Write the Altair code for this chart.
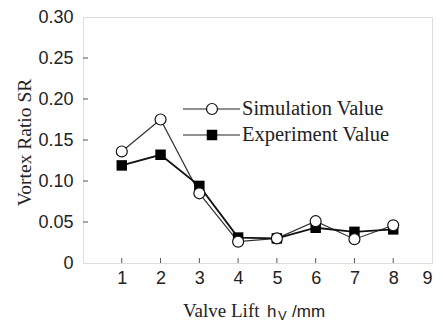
import altair as alt
import pandas as pd

lift = [1, 2, 3, 4, 5, 6, 7, 8]
simulation = [0.136, 0.175, 0.085, 0.026, 0.030, 0.051, 0.029, 0.046]
experiment = [0.119, 0.132, 0.094, 0.031, 0.030, 0.043, 0.038, 0.041]
x_ticks = [1, 2, 3, 4, 5, 6, 7, 8, 9]
y_ticks = [0, 0.05, 0.10, 0.15, 0.20, 0.25, 0.30]
series_names = ["Simulation Value", "Experiment Value"]

W, H = 349, 246

sim_df = pd.DataFrame({"x": lift, "y": simulation})
exp_df = pd.DataFrame({"x": lift, "y": experiment})

xscale = alt.Scale(domain=[0, 9], nice=False, zero=False)
yscale = alt.Scale(domain=[0, 0.30], nice=False)

xaxis = alt.Axis(values=x_ticks, format="d", title=None, grid=False, domain=False,
                 ticks=False, labelFont="Liberation Sans", labelFontSize=18,
                 labelColor="#222", labelPadding=6)
yaxis = alt.Axis(values=y_ticks, labelExpr="datum.value == 0 ? '0' : format(datum.value, '.2f')",
                 title="Vortex Ratio SR", grid=False, domain=False, ticks=False,
                 labelFont="Liberation Sans", labelFontSize=18, labelColor="#222",
                 labelPadding=10, titleFont="Liberation Serif", titleFontSize=19.5,
                 titleFontWeight="normal", titleColor="#222", titleX=-59, titleY=125,
                 titleAngle=270, titleAlign="center", titleBaseline="middle")

base_sim = alt.Chart(sim_df).encode(
    x=alt.X("x:Q", scale=xscale, axis=xaxis),
    y=alt.Y("y:Q", scale=yscale, axis=yaxis),
)
sim_line = base_sim.mark_line(color="#333", strokeWidth=1.2)
sim_pts = base_sim.mark_point(shape="circle", filled=True, fill="white", stroke="#111",
                              strokeWidth=1.2, size=120, opacity=1)

base_exp = alt.Chart(exp_df).encode(x=alt.X("x:Q", scale=xscale), y=alt.Y("y:Q", scale=yscale))
exp_line = base_exp.mark_line(color="#111", strokeWidth=1.8)
exp_pts = base_exp.mark_square(color="#000", size=110, opacity=1)

# inward ticks
xt = alt.Chart(pd.DataFrame({"x": x_ticks[:-1]})).mark_rule(color="#555", strokeWidth=1).encode(
    x=alt.X("x:Q", scale=xscale), y=alt.value(H), y2=alt.value(H - 5))
yt = alt.Chart(pd.DataFrame({"y": y_ticks[1:-1]})).mark_rule(color="#555", strokeWidth=1).encode(
    y=alt.Y("y:Q", scale=yscale), x=alt.value(0), x2=alt.value(5))

# legend
leg_df = pd.DataFrame({"name": series_names, "ly": [92, 118]})
leg_line = alt.Chart(leg_df).mark_rule(color="#222", strokeWidth=1.2).encode(
    x=alt.value(100), x2=alt.value(157), y=alt.Y("ly:Q", scale=None))
leg_circ = alt.Chart(leg_df.iloc[[0]]).mark_point(shape="circle", filled=True, fill="white",
                                                  stroke="#111", strokeWidth=1.2, size=120, opacity=1).encode(
    x=alt.value(129), y=alt.Y("ly:Q", scale=None))
leg_sq = alt.Chart(leg_df.iloc[[1]]).mark_square(color="#000", size=110, opacity=1).encode(
    x=alt.value(129), y=alt.Y("ly:Q", scale=None))
leg_text = alt.Chart(leg_df).mark_text(align="left", baseline="middle", font="Liberation Serif",
                                       fontSize=20.5, color="#222").encode(
    x=alt.value(159), y=alt.Y("ly:Q", scale=None), text="name:N")

# x title with mixed fonts
t1 = alt.Chart(pd.DataFrame({"t": ["Valve Lift"]})).mark_text(
    align="left", baseline="alphabetic", font="Liberation Serif", fontSize=19, color="#222").encode(
    x=alt.value(100), y=alt.value(300), text="t:N")
t2 = alt.Chart(pd.DataFrame({"t": ["h"]})).mark_text(
    align="left", baseline="alphabetic", font="Liberation Sans", fontSize=17, color="#222").encode(
    x=alt.value(184), y=alt.value(300), text="t:N")
t3 = alt.Chart(pd.DataFrame({"t": ["V"]})).mark_text(
    align="left", baseline="alphabetic", font="Liberation Sans", fontSize=13, color="#222").encode(
    x=alt.value(195), y=alt.value(303), text="t:N")
t4 = alt.Chart(pd.DataFrame({"t": ["/mm"]})).mark_text(
    align="left", baseline="alphabetic", font="Liberation Sans", fontSize=17, color="#222").encode(
    x=alt.value(209), y=alt.value(300), text="t:N")

chart = alt.layer(
    xt, yt, sim_line, exp_line, exp_pts, sim_pts,
    leg_line, leg_circ, leg_sq, leg_text, t1, t2, t3, t4
).properties(
    width=W, height=H,
    autosize=alt.AutoSizeParams(type="none"),
    padding={"left": 83, "top": 17, "right": 11, "bottom": 61},
).configure_view(stroke="#444", strokeWidth=1.5).configure(background="white")

chart.save("out.html", embed_options={"renderer": "svg", "actions": False})
